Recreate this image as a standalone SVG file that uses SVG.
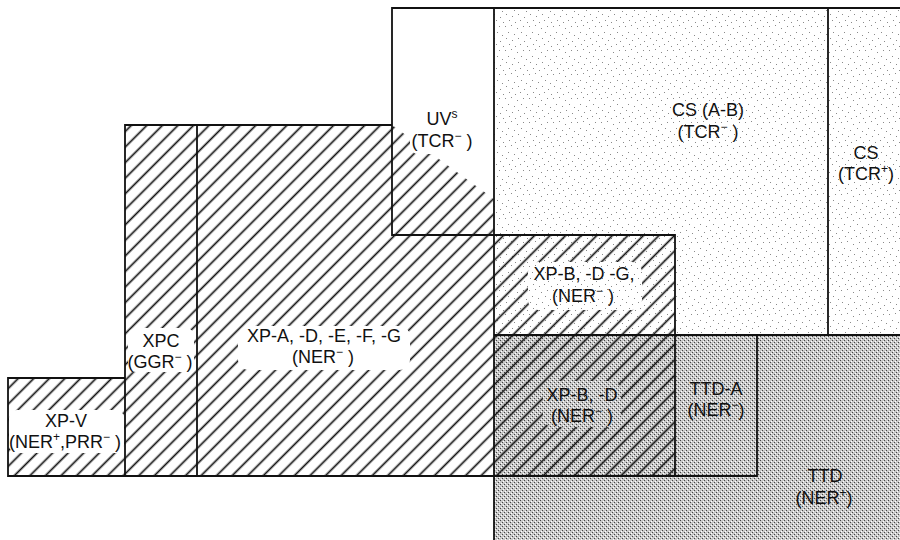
<svg xmlns="http://www.w3.org/2000/svg" width="900" height="540" viewBox="0 0 900 540">
<defs>
<pattern id="hatch" patternUnits="userSpaceOnUse" width="11" height="11" patternTransform="rotate(-45)">
<line x1="0" y1="5.5" x2="11" y2="5.5" stroke="#111" stroke-width="1.7"/>
</pattern>
<pattern id="light" patternUnits="userSpaceOnUse" width="24" height="24">
<rect width="24" height="24" fill="#fff"/>
<g fill="#8a8a8a">
<rect x="1" y="2" width="1" height="1"/><rect x="7" y="1" width="1" height="1"/><rect x="13" y="4" width="1" height="1"/><rect x="19" y="2" width="1" height="1"/>
<rect x="4" y="8" width="1" height="1"/><rect x="10" y="10" width="1" height="1"/><rect x="17" y="8" width="1" height="1"/><rect x="22" y="11" width="1" height="1"/>
<rect x="2" y="14" width="1" height="1"/><rect x="8" y="16" width="1" height="1"/><rect x="14" y="14" width="1" height="1"/><rect x="20" y="17" width="1" height="1"/>
<rect x="5" y="20" width="1" height="1"/><rect x="11" y="22" width="1" height="1"/><rect x="16" y="20" width="1" height="1"/><rect x="23" y="22" width="1" height="1"/>
</g>
</pattern>
<pattern id="grey" patternUnits="userSpaceOnUse" width="4" height="4">
<rect width="4" height="4" fill="#c8c8c8"/>
<rect x="0" y="0" width="1" height="1" fill="#444"/>
<rect x="2" y="2" width="1" height="1" fill="#444"/>
<rect x="1" y="3" width="1" height="1" fill="#fff"/>
<rect x="3" y="1" width="1" height="1" fill="#fff"/>
</pattern>
</defs>
<style>
text{font-family:"Liberation Sans",Arial,sans-serif;font-size:18px;fill:#111;text-anchor:middle}
.sup{font-size:12px}
.ln{stroke:#111;stroke-width:1.8;fill:none;stroke-linecap:square}
.ko{stroke:none}
</style>
<rect width="900" height="540" fill="#fff"/>

<g id="cs-ab">
<rect x="494" y="8" width="334" height="327" fill="url(#light)"/>
</g>
<g id="cs-tcr">
<rect x="828" y="8" width="72" height="327" fill="url(#light)"/>
</g>
<g id="ttd">
<polygon points="494,476 757,476 757,335 900,335 900,540 494,540" fill="url(#grey)"/>
</g>
<g id="ttd-a">
<rect x="675" y="335" width="82" height="141" fill="url(#grey)"/>
</g>
<g id="xp-bd">
<rect x="494" y="335" width="181" height="141" fill="url(#grey)"/>
<rect x="494" y="335" width="181" height="141" fill="url(#hatch)"/>
<rect class="ko" x="543" y="381" width="78" height="46" rx="10" fill="url(#grey)"/>
</g>
<g id="xp-bdg">
<rect x="494" y="235" width="181" height="100" fill="url(#hatch)"/>
<rect class="ko" x="528" y="262" width="114" height="48" rx="10" fill="url(#light)"/>
</g>
<g id="xp-a">
<polygon points="197,125 392,125 494,199 494,476 197,476" fill="url(#hatch)"/>
<rect class="ko" x="238" y="326" width="172" height="44" rx="10" fill="#fff"/>
</g>
<g id="uv">
<rect class="ko" x="410" y="128" width="66" height="26" rx="8" fill="#fff"/>
</g>
<g id="xpc">
<rect x="125" y="125" width="72" height="351" fill="url(#hatch)"/>
<rect class="ko" x="128" y="328" width="66" height="44" rx="8" fill="#fff"/>
</g>
<g id="xp-v">
<rect x="8" y="378" width="117" height="98" fill="url(#hatch)"/>
<rect class="ko" x="9" y="410" width="115" height="43" rx="8" fill="#fff"/>
</g>

<g id="connectors">
<path class="ln" d="M392,8 H900 M392,8 V235 H675 V476 M494,8 V540 M828,8 V335 M494,335 H900 M757,335 V476 M8,476 H757 M125,125 H392 M125,125 V476 M197,125 V476 M8,378 H125 M8,378 V476"/>
</g>

<g id="labels">
<text x="442" y="125">UV<tspan class="sup" baseline-shift="super">s</tspan></text>
<text x="442" y="147">(TCR<tspan class="sup" baseline-shift="super">−</tspan> )</text>
<text x="708" y="116">CS (A-B)</text>
<text x="708" y="138">(TCR<tspan class="sup" baseline-shift="super">−</tspan> )</text>
<text x="866" y="159">CS</text>
<text x="866" y="180">(TCR<tspan class="sup" baseline-shift="super">+</tspan>)</text>
<text x="584" y="280">XP-B, -D -G,</text>
<text x="583" y="302">(NER<tspan class="sup" baseline-shift="super">−</tspan> )</text>
<text x="161" y="347">XPC</text>
<text x="160" y="368">(GGR<tspan class="sup" baseline-shift="super">−</tspan> )</text>
<text x="324" y="342">XP-A, -D, -E, -F, -G</text>
<text x="323" y="363">(NER<tspan class="sup" baseline-shift="super">−</tspan> )</text>
<text x="66" y="427">XP-V</text>
<text x="65" y="448">(NER<tspan class="sup" baseline-shift="super">+</tspan>,PRR<tspan class="sup" baseline-shift="super">−</tspan> )</text>
<text x="582" y="401">XP-B, -D</text>
<text x="582" y="422">(NER<tspan class="sup" baseline-shift="super">−</tspan> )</text>
<text x="716" y="395">TTD-A</text>
<text x="716" y="416">(NER<tspan class="sup" baseline-shift="super">−</tspan>)</text>
<text x="825" y="482">TTD</text>
<text x="824" y="504">(NER<tspan class="sup" baseline-shift="super">+</tspan>)</text>
</g>
</svg>
